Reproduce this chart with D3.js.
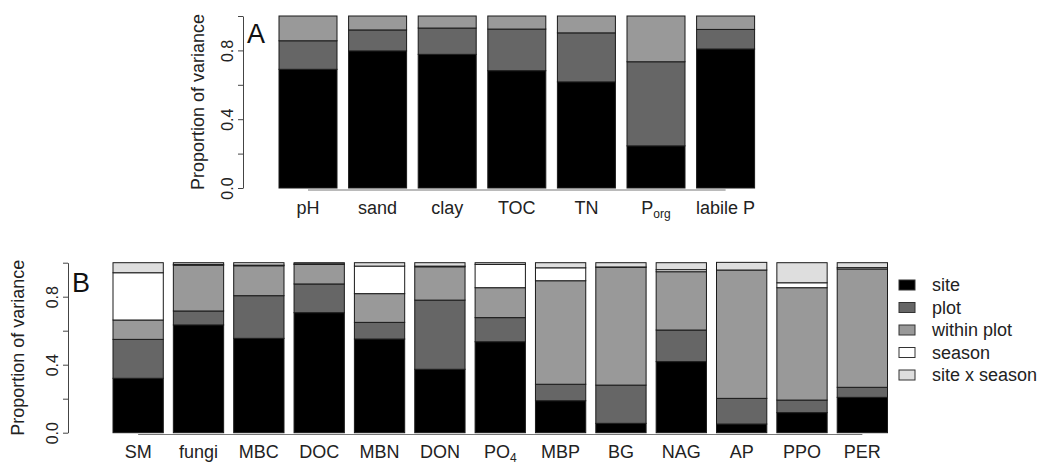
<!DOCTYPE html>
<html><head><meta charset="utf-8">
<script src="https://cdn.jsdelivr.net/npm/d3@7"></script>
<style>
body{margin:0;background:#fff;}
svg{display:block;font-family:"Liberation Sans",Arial,sans-serif;}
</style></head><body>
<svg id="c" width="1044" height="470"></svg>
<script>
// ---- data ----
const componentsA = ["site","plot","within plot"];
const componentsB = ["site","plot","within plot","season","site x season"];
const categoriesA = ["pH","sand","clay","TOC","TN","Porg","labile P"];
const siteA   = [0.690,0.797,0.777,0.682,0.617,0.245,0.808];
const plotA   = [0.166,0.122,0.153,0.242,0.285,0.489,0.114];
const withinA = [0.144,0.081,0.070,0.076,0.098,0.266,0.078];

const categoriesB = ["SM","fungi","MBC","DOC","MBN","DON","PO4","MBP","BG","NAG","AP","PPO","PER"];
const siteB    = [0.320,0.634,0.555,0.706,0.551,0.373,0.535,0.188,0.055,0.418,0.051,0.118,0.208];
const plotB    = [0.229,0.082,0.251,0.169,0.098,0.407,0.142,0.097,0.225,0.186,0.151,0.074,0.059];
const withinB  = [0.114,0.269,0.176,0.115,0.169,0.196,0.176,0.609,0.693,0.343,0.755,0.661,0.696];
const seasonB  = [0.278,0.005,0.004,0.003,0.162,0.004,0.137,0.076,0.002,0.012,0.000,0.029,0.008];
const sxsB     = [0.059,0.010,0.014,0.007,0.020,0.020,0.010,0.030,0.025,0.041,0.045,0.118,0.029];

const yTicks = [0,0.2,0.4,0.6,0.8,1.0];
const yTickLabels = ["0.0","","0.4","","0.8",""];
const xLabelsA = [["pH"],["sand"],["clay"],["TOC"],["TN"],["P","org"],["labile P"]];
const xLabelsB = [["SM"],["fungi"],["MBC"],["DOC"],["MBN"],["DON"],["PO","4"],["MBP"],["BG"],["NAG"],["AP"],["PPO"],["PER"]];

const colors = {"site":"#000000","plot":"#666666","within plot":"#999999","season":"#ffffff","site x season":"#dedede"};

const svg = d3.select("#c");
svg.append("rect").attr("width",1044).attr("height",470).attr("fill","#fff");

function panel(opts){
  const {cats, comps, series, xRange, yRange, axisX, titleX, letter, letterPos, labels, baseLineY, labelY} = opts;
  const g = svg.append("g");
  const n = cats.length;
  const x = d3.scaleBand().domain(cats).range(xRange).paddingInner(1/6).paddingOuter(0);
  const y = d3.scaleLinear().domain([0,1]).range(yRange);
  const rows = cats.map((c,i)=>{const o={cat:c}; comps.forEach((k,j)=>o[k]=series[j][i]); return o;});
  const stack = d3.stack().keys(comps)(rows);
  g.selectAll("g.layer").data(stack).join("g").attr("class","layer")
    .attr("fill",d=>colors[d.key])
    .selectAll("rect").data(d=>d).join("rect")
    .attr("x",d=>x(d.data.cat)).attr("width",x.bandwidth())
    .attr("y",d=>y(d[1])).attr("height",d=>Math.max(0,y(d[0])-y(d[1])))
    .attr("stroke","#1a1a1a").attr("stroke-width",1);
  // y axis
  const ya = g.append("g").attr("transform",`translate(${axisX},0)`)
    .call(d3.axisLeft(y).tickValues(yTicks).tickSize(5).tickSizeOuter(0).tickFormat((d,i)=>yTickLabels[i]));
  ya.select(".domain").attr("stroke","#444");
  ya.selectAll(".tick line").attr("stroke","#444");
  ya.selectAll(".tick text").attr("transform","rotate(-90)").attr("x",0).attr("y",-10).attr("dy",0)
    .style("text-anchor","middle").attr("font-size",16).attr("fill","#222").attr("font-family","Liberation Sans, Arial, sans-serif");
  // y title
  g.append("text").attr("transform",`translate(${titleX},${(yRange[0]+yRange[1])/2}) rotate(-90)`)
    .attr("text-anchor","middle").attr("font-size",18).attr("fill","#222").text("Proportion of variance");
  // letter
  g.append("text").attr("x",letterPos[0]).attr("y",letterPos[1]).attr("font-size",27).attr("fill","#111").text(letter);
  // baseline
  const c0 = x(cats[0])+x.bandwidth()/2, c1 = x(cats[n-1])+x.bandwidth()/2;
  g.append("line").attr("x1",c0).attr("x2",c1).attr("y1",baseLineY).attr("y2",baseLineY).attr("stroke","#777").attr("stroke-width",1);
  // x labels
  const t = g.selectAll("text.xl").data(cats).join("text").attr("class","xl")
    .attr("x",d=>x(d)+x.bandwidth()/2).attr("y",labelY).attr("text-anchor","middle")
    .attr("font-size",18).attr("fill","#222");
  t.each(function(d,i){
    const L = labels[i]; const s = d3.select(this);
    s.append("tspan").text(L[0]);
    if(L.length>1){ s.append("tspan").attr("font-size",12).attr("dy",4).text(L[1]); }
  });
}

panel({cats:categoriesA, comps:componentsA, series:[siteA,plotA,withinA],
  xRange:[279,279+6*69.6+58], yRange:[188,16], axisX:243, titleX:204, letter:"A", letterPos:[247,43],
  labels:xLabelsA, baseLineY:190, labelY:214});

panel({cats:categoriesB, comps:componentsB, series:[siteB,plotB,withinB,seasonB,sxsB],
  xRange:[113,113+12*60.35+50.3], yRange:[432.7,262.7], axisX:68, titleX:24, letter:"B", letterPos:[72,292],
  labels:xLabelsB, baseLineY:434.5, labelY:458});

// legend
const leg = svg.append("g").attr("transform","translate(899,285)");
const li = leg.selectAll("g").data(componentsB).join("g").attr("transform",(d,i)=>`translate(0,${i*22.5})`);
li.append("rect").attr("x",0).attr("y",-5).attr("width",16).attr("height",10)
  .attr("fill",d=>colors[d]).attr("stroke","#333").attr("stroke-width",1);
li.append("text").attr("x",33).attr("y",6).attr("font-size",18).attr("fill","#222").text(d=>d);
</script>
</body></html>
